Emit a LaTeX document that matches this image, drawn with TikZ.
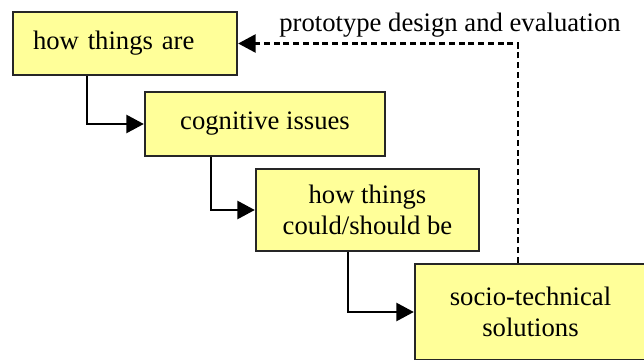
\documentclass[tikz,border=0pt]{standalone}
\usepackage{fontspec}
\setmainfont{Liberation Serif}
\usetikzlibrary{arrows.meta}
\definecolor{boxfill}{HTML}{FFFF99}
\begin{document}
\begin{tikzpicture}[x=0.75pt,y=-0.75pt,
  box/.style={draw=black!85,fill=boxfill,line width=1.8pt,rectangle,inner sep=0pt,
    font=\fontsize{20}{23.25}\selectfont,align=center},
  arr/.style={line width=1.6pt,-{Triangle[length=13pt,width=13.5pt]}},
  darr/.style={line width=1.6pt,dash pattern=on 4.5pt off 2.8pt,-{Triangle[length=13pt,width=13.5pt]}},
  lbl/.style={font=\fontsize{20}{23.25}\selectfont,inner sep=0pt}]
\useasboundingbox (0,0) rectangle (644,360);
\clip (0,0) rectangle (644,360);
\node[box,minimum width=168pt,minimum height=47.25pt,text width=138pt,inner xsep=15pt,align=left] (b1) at (125,43.5) {how things are};
\node[box,minimum width=180pt,minimum height=48pt] (b2) at (265,124) {cognitive issues};
\node[box,minimum width=167.25pt,minimum height=61.5pt] (b3) at (367.5,210) {how things\\could/should be};
\node[box,minimum width=173.25pt,minimum height=72pt] (b4) at (530.5,312) {socio-technical\\solutions};
\draw[arr] ([xshift=56.25pt]b1.south west) |- (b2.west);
\draw[arr] ([xshift=50.25pt]b2.south west) |- (b3.west);
\draw[arr] ([xshift=69.75pt]b3.south west) |- (b4.west);
\draw[darr] ([xshift=78pt]b4.north west) |- (b1.east);
\node[lbl,anchor=base] (lab) at (450,32) {prototype design and evaluation};
\end{tikzpicture}
\end{document}
